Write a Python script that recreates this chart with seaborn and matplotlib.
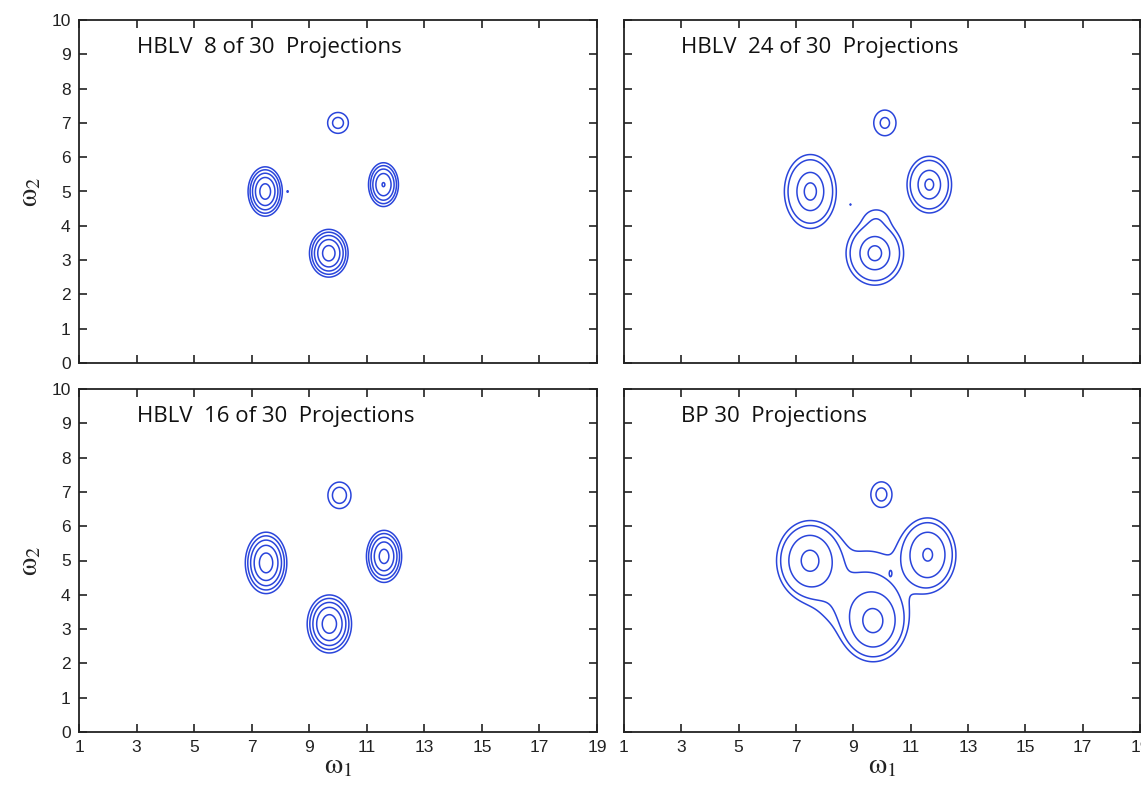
import numpy as np
import matplotlib
matplotlib.use("Agg")
import matplotlib.pyplot as plt
import seaborn as sns

sns.set_theme(style="ticks")
plt.rcParams['font.family'] = ['Liberation Sans', 'DejaVu Sans']
plt.rcParams['mathtext.fontset'] = 'stix'

# ---------------- data ----------------
titles = ["HBLV  8 of 30  Projections", "HBLV  24 of 30  Projections",
          "HBLV  16 of 30  Projections", "BP 30  Projections"]
x_ticks = [1, 3, 5, 7, 9, 11, 13, 15, 17, 19]
y_ticks = [0, 1, 2, 3, 4, 5, 6, 7, 8, 9, 10]

# peaks per panel: centre x, centre y, amplitude, sigma x, sigma y
a_px = [7.47, 9.68, 11.58, 10.0, 8.25]
a_py = [5.0, 3.2, 5.2, 7.0, 5.0]
a_amp = [1.08, 1.1, 0.82, 0.13, 0.06]
a_sx = [0.24, 0.27, 0.22, 0.26, 0.03]
a_sy = [0.29, 0.28, 0.27, 0.22, 0.03]
a_levels = [0.05, 0.1, 0.2, 0.4, 0.8]

b_px = [7.5, 9.75, 11.65, 10.1, 9.8, 8.9]
b_py = [5.0, 3.2, 5.2, 7.0, 4.2, 4.62]
b_amp = [1.0, 1.0, 0.95, 0.13, 0.08, 0.06]
b_sx = [0.37, 0.41, 0.32, 0.28, 0.35, 0.03]
b_sy = [0.44, 0.38, 0.34, 0.27, 0.25, 0.03]
b_levels = [0.05, 0.11, 0.45, 0.85]

c_px = [7.5, 9.7, 11.6, 10.05]
c_py = [4.93, 3.15, 5.12, 6.9]
c_amp = [1.1, 1.1, 1.0, 0.15]
c_sx = [0.29, 0.31, 0.25, 0.27]
c_sy = [0.36, 0.34, 0.31, 0.26]
c_levels = [0.05, 0.1, 0.2, 0.4, 0.8]

d_px = [7.48, 9.69, 11.6, 9.98, 9.55, 8.55, 10.3]
d_py = [5.0, 3.22, 5.17, 6.93, 4.35, 3.85, 4.63]
d_amp = [1.0, 1.0, 0.9, 0.16, 0.11, 0.08, 0.09]
d_sx = [0.5, 0.5, 0.43, 0.28, 1.15, 0.7, 0.03]
d_sy = [0.5, 0.5, 0.47, 0.28, 0.95, 0.55, 0.06]
d_levels = [0.07, 0.13, 0.35, 0.85]

panels = [
    (a_px, a_py, a_amp, a_sx, a_sy, a_levels),
    (b_px, b_py, b_amp, b_sx, b_sy, b_levels),
    (c_px, c_py, c_amp, c_sx, c_sy, c_levels),
    (d_px, d_py, d_amp, d_sx, d_sy, d_levels),
]

# ---------------- figure ----------------
W, H = 1141, 788
fig = plt.figure(figsize=(W / 100, H / 100), dpi=100)
fig.patch.set_facecolor("white")

rects = [
    (79 / W, (H - 363) / H, 518 / W, 343 / H),
    (624 / W, (H - 363) / H, 516 / W, 343 / H),
    (79 / W, (H - 732) / H, 518 / W, 343 / H),
    (624 / W, (H - 732) / H, 516 / W, 343 / H),
]

gx = np.linspace(1, 19, 901)
gy = np.linspace(0, 10, 501)
GX, GY = np.meshgrid(gx, gy)
line_color = "#2a45db"

for i, (rect, (px, py, amp, sx, sy, levels)) in enumerate(zip(rects, panels)):
    ax = fig.add_axes(rect)
    ax.set_facecolor("white")
    Z = np.zeros_like(GX)
    for x0, y0, a, s1, s2 in zip(px, py, amp, sx, sy):
        Z += a * np.exp(-((GX - x0) ** 2) / (2 * s1 ** 2) - ((GY - y0) ** 2) / (2 * s2 ** 2))
    ax.contour(GX, GY, Z, levels=levels, colors=line_color, linewidths=1.1)
    ax.set_xlim(1, 19)
    ax.set_ylim(0, 10)
    ax.set_xticks(x_ticks)
    ax.set_yticks(y_ticks)
    ax.tick_params(direction="in", length=6, width=1.2, top=True, right=True,
                   labelsize=12.5, colors="#222222", pad=6)
    for sp in ax.spines.values():
        sp.set_linewidth(1.3)
        sp.set_color("#222222")
    if i < 2:
        ax.tick_params(labelbottom=False)
    else:
        ax.set_xlabel(r"$\mathrm{\omega}_{1}$", fontsize=21, labelpad=-3, color="#222222")
    if i % 2 == 1:
        ax.tick_params(labelleft=False)
    else:
        ax.set_ylabel(r"$\mathrm{\omega}_{2}$", fontsize=21, labelpad=6, color="#222222")
    ax.text(3.0, 9.2, titles[i], fontsize=16, family="Open Sans",
            va="center", ha="left", color="#111111")
    ax.grid(False)

fig.savefig("out.png", dpi=100, facecolor="white")
